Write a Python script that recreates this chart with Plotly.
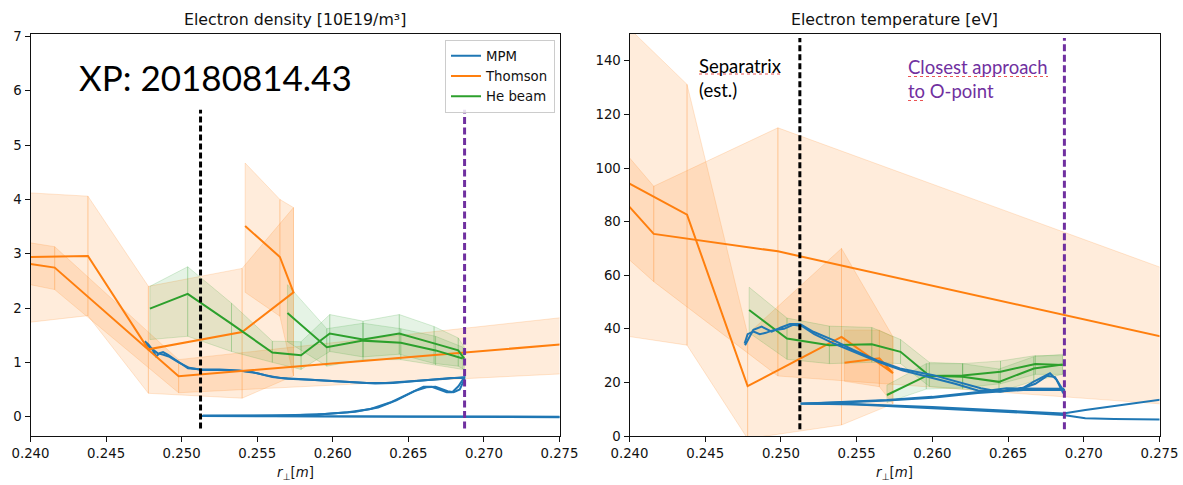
import plotly.graph_objects as go

# ---------------- data: electron density (left) ----------------
ne_th1_x = [0.2400, 0.2438, 0.2478, 0.2540, 0.2574, 0.2565, 0.2542]
ne_th1_y = [2.94, 2.96, 1.24, 1.56, 2.29, 2.94, 3.51]
ne_th1_hi = [4.12, 4.06, 2.40, 2.73, 3.85, 4.00, 4.67]
ne_th1_lo = [1.74, 1.86, 0.43, 0.34, 0.75, 1.85, 2.29]

ne_th2_x = [0.2400, 0.2416, 0.2498, 0.2760]
ne_th2_y = [2.81, 2.745, 0.745, 1.35]
ne_th2_hi = [3.20, 3.13, 1.05, 1.85]
ne_th2_lo = [2.43, 2.34, 0.44, 0.80]

ne_he1_x = [0.2479, 0.2504, 0.2533, 0.2560, 0.2579, 0.2598, 0.2620, 0.2644, 0.2667, 0.2683, 0.2687]
ne_he1_y = [1.99, 2.26, 1.71, 1.18, 1.13, 1.53, 1.42, 1.53, 1.35, 1.22, 1.07]
ne_he1_hi = [2.40, 2.76, 2.09, 1.39, 1.38, 1.88, 1.76, 1.88, 1.66, 1.45, 1.28]
ne_he1_lo = [1.42, 1.48, 1.20, 1.00, 0.87, 1.20, 1.10, 1.15, 0.98, 0.93, 0.87]

ne_he2_x = [0.2570, 0.2596, 0.2620, 0.2645, 0.2668, 0.2686]
ne_he2_y = [1.91, 1.28, 1.40, 1.36, 1.22, 1.07]
ne_he2_hi = [2.43, 1.62, 1.72, 1.62, 1.48, 1.28]
ne_he2_lo = [1.38, 0.93, 1.05, 1.05, 0.95, 0.87]

ne_mpm1_x = [0.24756, 0.2478, 0.2481, 0.24832, 0.24855, 0.24877, 0.2491, 0.2497, 0.25042, 0.2513,
             0.2525, 0.2538, 0.2547, 0.2556, 0.2566, 0.2580, 0.2595, 0.2610, 0.26225, 0.2635,
             0.2647, 0.2660, 0.2675, 0.2687,
             0.26869, 0.26831, 0.2679, 0.26754, 0.26655, 0.2660, 0.26512, 0.26379, 0.2625, 0.2610,
             0.2590, 0.2560, 0.2513,
             0.2540, 0.2600, 0.2700, 0.2760]
ne_mpm1_y = [1.39, 1.33, 1.22, 1.11, 1.17, 1.19, 1.14, 1.02, 0.89, 0.87,
             0.87, 0.85, 0.82, 0.76, 0.71, 0.69, 0.67, 0.64, 0.62, 0.62,
             0.64, 0.67, 0.70, 0.73,
             0.72, 0.56, 0.45, 0.45, 0.55, 0.55, 0.44, 0.26, 0.14, 0.08,
             0.04, 0.02, 0.01,
             0.01, 0.01, 0.00, 0.00]

ne_mpm2_x = [0.24760, 0.2479, 0.2484, 0.2488, 0.2492, 0.2498, 0.2505, 0.2514, 0.2526, 0.2540,
             0.2550, 0.2560, 0.2570, 0.2585, 0.2600, 0.2615, 0.2628, 0.2640, 0.2652, 0.2665,
             0.2678, 0.2687,
             0.2687, 0.2684, 0.2680, 0.2676, 0.2668, 0.2662, 0.2654, 0.2642, 0.2630, 0.2615,
             0.2595, 0.2570, 0.2514,
             0.2560, 0.2650, 0.2760]
ne_mpm2_y = [1.34, 1.28, 1.17, 1.14, 1.10, 1.00, 0.90, 0.86, 0.86, 0.84,
             0.80, 0.73, 0.70, 0.68, 0.66, 0.63, 0.61, 0.62, 0.65, 0.68,
             0.71, 0.71,
             0.68, 0.50, 0.45, 0.47, 0.55, 0.54, 0.47, 0.30, 0.17, 0.09,
             0.05, 0.02, 0.02,
             0.01, 0.00, -0.01]

# ---------------- data: electron temperature (right) ----------------
te_th1_x = [0.2400, 0.2438, 0.2478, 0.2540, 0.2574, 0.2565, 0.2542]
te_th1_y = [94.2, 82.6, 18.6, 37.0, 23.4, 29.0, 27.3]
te_th1_hi = [152.0, 131.2, 38.0, 70.0, 37.0, 39.5, 39.5]
te_th1_lo = [37.1, 33.9, -1.0, 4.1, 12.0, 18.4, 20.4]

te_th2_x = [0.2400, 0.2416, 0.2498, 0.2760]
te_th2_y = [85.5, 75.4, 68.9, 36.0]
te_th2_hi = [103.8, 93.2, 115.0, 61.0]
te_th2_lo = [65.7, 57.6, 22.4, 11.6]

te_he1_x = [0.2479, 0.2504, 0.2532, 0.2560, 0.2579, 0.2598, 0.2620, 0.2644, 0.2667, 0.2686]
te_he1_y = [47.0, 36.4, 33.9, 34.2, 31.4, 22.5, 22.1, 20.2, 25.2, 26.7]
te_he1_hi = [55.5, 44.0, 41.0, 40.5, 36.0, 27.5, 27.0, 25.0, 29.6, 30.5]
te_he1_lo = [38.5, 28.6, 27.0, 27.5, 27.0, 18.5, 17.5, 16.5, 20.5, 23.0]

te_he2_x = [0.2570, 0.2596, 0.2620, 0.2645, 0.2668, 0.2686]
te_he2_y = [15.3, 22.4, 22.6, 24.0, 26.9, 26.5]
te_he2_hi = [19.0, 27.0, 27.0, 28.0, 30.0, 30.0]
te_he2_lo = [12.5, 17.5, 18.0, 19.5, 23.0, 23.0]

te_mpm1_x = [0.24763, 0.2479, 0.24818, 0.24873, 0.24939, 0.2500, 0.2506, 0.25126, 0.25214, 0.25346,
             0.25478, 0.25632, 0.25786, 0.26006, 0.2615, 0.2632, 0.26447, 0.2660, 0.26667, 0.26777,
             0.2682, 0.26865,
             0.26865, 0.2670, 0.2649, 0.2630, 0.2600, 0.2570, 0.2546, 0.2513,
             0.2546, 0.2600, 0.2650, 0.26865, 0.2701, 0.2750, 0.2760]
te_mpm1_y = [33.9, 36.5, 39.6, 40.8, 38.9, 40.5, 41.8, 41.8, 38.9, 35.8,
             32.1, 28.3, 25.2, 22.7, 20.5, 17.8, 16.5, 18.0, 20.2, 23.4,
             21.0, 15.9,
             17.6, 17.7, 17.8, 16.4, 14.6, 13.4, 12.8, 12.0,
             11.9, 10.8, 9.4, 8.4, 9.7, 13.7, 14.3]

te_mpm2_x = [0.2476, 0.2478, 0.2482, 0.2486, 0.2490, 0.2495, 0.2502, 0.2508, 0.2514, 0.2522,
             0.2535, 0.2550, 0.2565, 0.2580, 0.2598, 0.2615, 0.2630, 0.2645, 0.2658, 0.2668,
             0.2676, 0.2681, 0.2687,
             0.2687, 0.2660, 0.2630, 0.2600, 0.2570, 0.2540, 0.2513,
             0.2550, 0.2600, 0.2650, 0.26865, 0.2701, 0.2720, 0.2760]
te_mpm2_y = [34.5, 38.0, 39.0, 38.0, 38.5, 39.5, 40.0, 41.5, 41.0, 38.0,
             34.5, 31.0, 27.5, 24.5, 22.0, 19.5, 17.0, 16.8, 17.5, 19.5,
             22.5, 22.0, 16.5,
             17.2, 17.2, 16.0, 14.3, 13.2, 12.5, 12.1,
             11.8, 10.5, 9.0, 7.8, 6.6, 6.3, 6.1]

# reference positions
sep_x = 0.25125
opoint_x = 0.26872
ne_vline_y = [-0.22, 5.65]
te_vline_y = [2.5, 148.5]

x_ticks = [0.240, 0.245, 0.250, 0.255, 0.260, 0.265, 0.270, 0.275]
ne_ticks = [0, 1, 2, 3, 4, 5, 6, 7]
te_ticks = [0, 20, 40, 60, 80, 100, 120, 140]

BLUE = "#1f77b4"
ORANGE = "#ff7f0e"
GREEN = "#2ca02c"
ORANGE_RGB = "255,127,14"
GREEN_RGB = "44,160,44"
PURPLE = "#7030A0"

fig = go.Figure()


def add_band(x, lo, hi, rgb, xa, ya, alpha=0.15):
    for i in range(len(x) - 1):
        fig.add_trace(go.Scatter(
            x=[x[i], x[i + 1], x[i + 1], x[i], x[i]],
            y=[hi[i], hi[i + 1], lo[i + 1], lo[i], hi[i]],
            mode="lines", fill="toself",
            fillcolor=f"rgba({rgb},{alpha})",
            line=dict(color=f"rgba({rgb},0.18)", width=1),
            hoverinfo="skip", showlegend=False, xaxis=xa, yaxis=ya))


def add_line(x, y, color, xa, ya, name=None, show=False, width=2):
    fig.add_trace(go.Scatter(
        x=x, y=y, mode="lines", line=dict(color=color, width=width),
        name=name, legendgroup=name, showlegend=show, xaxis=xa, yaxis=ya))


# bands
add_band(ne_th1_x, ne_th1_lo, ne_th1_hi, ORANGE_RGB, "x", "y")
add_band(ne_th2_x, ne_th2_lo, ne_th2_hi, ORANGE_RGB, "x", "y")
add_band(te_th1_x, te_th1_lo, te_th1_hi, ORANGE_RGB, "x2", "y2")
add_band(te_th2_x, te_th2_lo, te_th2_hi, ORANGE_RGB, "x2", "y2")
add_band(ne_he1_x, ne_he1_lo, ne_he1_hi, GREEN_RGB, "x", "y", 0.12)
add_band(ne_he2_x, ne_he2_lo, ne_he2_hi, GREEN_RGB, "x", "y", 0.12)
add_band(te_he1_x, te_he1_lo, te_he1_hi, GREEN_RGB, "x2", "y2", 0.12)
add_band(te_he2_x, te_he2_lo, te_he2_hi, GREEN_RGB, "x2", "y2", 0.12)

# lines (legend order: MPM, Thomson, He beam)
add_line(ne_mpm1_x, ne_mpm1_y, BLUE, "x", "y", "MPM", True)
add_line(ne_mpm2_x, ne_mpm2_y, BLUE, "x", "y", "MPM")
add_line(ne_th1_x, ne_th1_y, ORANGE, "x", "y", "Thomson", True)
add_line(ne_th2_x, ne_th2_y, ORANGE, "x", "y", "Thomson")
add_line(ne_he1_x, ne_he1_y, GREEN, "x", "y", "He beam", True)
add_line(ne_he2_x, ne_he2_y, GREEN, "x", "y", "He beam")

add_line(te_th1_x, te_th1_y, ORANGE, "x2", "y2", "Thomson")
add_line(te_th2_x, te_th2_y, ORANGE, "x2", "y2", "Thomson")
add_line(te_he1_x, te_he1_y, GREEN, "x2", "y2", "He beam")
add_line(te_he2_x, te_he2_y, GREEN, "x2", "y2", "He beam")
add_line(te_mpm1_x, te_mpm1_y, BLUE, "x2", "y2", "MPM")
add_line(te_mpm2_x, te_mpm2_y, BLUE, "x2", "y2", "MPM")

# dashed reference lines
for xa, ya, yy in (("x", "y", ne_vline_y), ("x2", "y2", te_vline_y)):
    fig.add_trace(go.Scatter(x=[sep_x, sep_x], y=yy, mode="lines",
                             line=dict(color="black", width=3, dash="6px,3px"),
                             showlegend=False, hoverinfo="skip", xaxis=xa, yaxis=ya))
    fig.add_trace(go.Scatter(x=[opoint_x, opoint_x], y=yy, mode="lines",
                             line=dict(color=PURPLE, width=3, dash="7px,3.5px"),
                             showlegend=False, hoverinfo="skip", xaxis=xa, yaxis=ya))

W, H = 1183, 485
T, B = 34, 49
PH = H - T - B


def px(xp):
    return xp / W


def py(yp):
    return (H - B - yp) / PH


axis_common = dict(
    showline=True, mirror=True, linecolor="#111", linewidth=1,
    ticks="outside", ticklen=5, tickwidth=1, tickcolor="#111",
    showgrid=False, zeroline=False, automargin=False,
    tickfont=dict(family="DejaVu Sans", size=13.3, color="#111"),
)

fig.update_layout(
    width=W, height=H,
    margin=dict(l=0, r=0, t=T, b=B, autoexpand=False),
    paper_bgcolor="white", plot_bgcolor="white",
    xaxis=dict(domain=[px(30.5), px(559.5)], range=[0.240, 0.275], anchor="y",
               tickvals=x_ticks, tickformat=".3f", **axis_common),
    yaxis=dict(domain=[0, 1], range=[-0.356, 7.046], anchor="x",
               tickvals=ne_ticks, **axis_common),
    xaxis2=dict(domain=[px(629.5), px(1159.5)], range=[0.240, 0.275], anchor="y2",
                tickvals=x_ticks, tickformat=".3f", **axis_common),
    yaxis2=dict(domain=[0, 1], range=[0, 150], anchor="x2",
                tickvals=te_ticks, **axis_common),
    legend=dict(x=px(555), xanchor="right", y=py(39.5), yanchor="top",
                bgcolor="rgba(255,255,255,0.85)", bordercolor="#cccccc", borderwidth=1,
                font=dict(family="DejaVu Sans", size=13.3, color="#111"),
                tracegroupgap=0, itemwidth=30),
    showlegend=True,
)

ann = []
ann.append(dict(text="Electron density [10E19/m³]", x=px(295), y=py(19), xref="paper", yref="paper",
                showarrow=False, xanchor="center", yanchor="middle",
                font=dict(family="DejaVu Sans", size=15.8, color="#111")))
ann.append(dict(text="Electron temperature [eV]", x=px(894.5), y=py(19), xref="paper", yref="paper",
                showarrow=False, xanchor="center", yanchor="middle",
                font=dict(family="DejaVu Sans", size=15.8, color="#111")))
for cx in (295, 894.5):
    ann.append(dict(text="<i>r</i><sub>⊥</sub>[<i>m</i>]", x=px(cx), y=py(473), xref="paper", yref="paper",
                    showarrow=False, xanchor="center", yanchor="middle",
                    font=dict(family="DejaVu Sans", size=13.3, color="#111")))
ann.append(dict(text="XP: 20180814.43", x=px(77), y=py(77), xref="paper", yref="paper",
                showarrow=False, xanchor="left", yanchor="middle",
                font=dict(family="Lato", size=35, color="black")))
ann.append(dict(text="Separatrix<br>(est.)", x=px(697), y=py(78), xref="paper", yref="paper",
                showarrow=False, xanchor="left", yanchor="middle", align="left",
                font=dict(family="Lato", size=18.5, color="black")))
ann.append(dict(text="Closest approach<br>to O-point", x=px(906), y=py(79), xref="paper", yref="paper",
                showarrow=False, xanchor="left", yanchor="middle", align="left",
                font=dict(family="Lato", size=18.5, color=PURPLE)))
fig.update_layout(annotations=ann)

# spell-check style wavy underlines (as dotted red lines)
for x0, x1, yy in ((699, 781, 74), (908, 1048, 76.5), (908, 925, 100.5)):
    fig.add_shape(type="line", xref="paper", yref="paper", x0=px(x0), x1=px(x1), y0=py(yy), y1=py(yy),
                  line=dict(color="rgba(230,40,40,0.8)", width=1.2, dash="dot"))

fig.write_html("out.html", config={"displayModeBar": False},
               post_script="document.body.style.margin='0px';document.body.style.overflow='hidden';")
